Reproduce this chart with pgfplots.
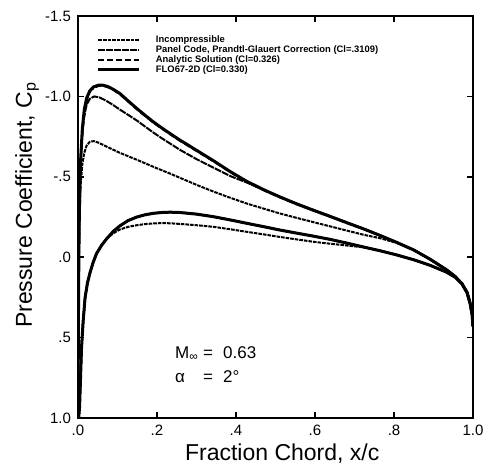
\documentclass[border=0pt]{standalone}
\usepackage{pgfplots}
\pgfplotsset{compat=1.18}
\usepackage{fontspec}
\setmainfont{Liberation Sans}

\pgfplotstableread{
x y
1.0 0.43
0.998 0.36
0.993 0.29
0.985 0.22
0.972 0.165
0.955 0.12
0.933 0.078
0.891 0.012
0.85 -0.045
0.807 -0.089
0.765 -0.118
0.722 -0.140
0.68 -0.166
0.638 -0.192
0.596 -0.218
0.553 -0.245
0.511 -0.272
0.47 -0.302
0.427 -0.334
0.385 -0.370
0.343 -0.408
0.30 -0.450
0.258 -0.494
0.233 -0.520
0.212 -0.541
0.191 -0.562
0.170 -0.584
0.149 -0.606
0.127 -0.628
0.106 -0.649
0.085 -0.673
0.064 -0.698
0.052 -0.712
0.040 -0.722
0.030 -0.718
0.022 -0.695
0.016 -0.65
0.011 -0.58
0.007 -0.46
0.0045 -0.30
0.003 -0.12
0.002 0.08
0.0012 0.35
0.0005 0.7
0.0 1.0
}\incup

\pgfplotstableread{
x y
0.0 1.0
0.002 0.99
0.004 0.93
0.006 0.78
0.009 0.56
0.013 0.40
0.018 0.25
0.024 0.16
0.030 0.10
0.038 0.035
0.047 -0.023
0.06 -0.075
0.073 -0.116
0.09 -0.150
0.106 -0.172
0.127 -0.189
0.149 -0.199
0.170 -0.206
0.191 -0.210
0.212 -0.212
0.233 -0.211
0.258 -0.207
0.30 -0.199
0.343 -0.189
0.385 -0.174
0.427 -0.158
0.47 -0.142
0.511 -0.126
0.553 -0.111
0.596 -0.096
0.638 -0.084
0.68 -0.073
0.722 -0.062
0.765 -0.040
0.807 -0.014
0.85 0.016
0.891 0.050
0.933 0.093
0.955 0.125
0.972 0.165
0.985 0.22
0.993 0.29
0.998 0.36
1.0 0.43
}\inclo

\pgfplotstableread{
x y
1.0 0.43
0.998 0.36
0.993 0.29
0.985 0.219
0.972 0.164
0.955 0.119
0.933 0.077
0.891 0.011
0.85 -0.046
0.807 -0.093
0.765 -0.136
0.722 -0.178
0.68 -0.217
0.638 -0.256
0.596 -0.294
0.553 -0.334
0.511 -0.376
0.47 -0.418
0.427 -0.465
0.385 -0.505
0.343 -0.557
0.30 -0.610
0.258 -0.668
0.233 -0.707
0.212 -0.740
0.191 -0.775
0.170 -0.812
0.149 -0.850
0.127 -0.885
0.106 -0.918
0.088 -0.948
0.07 -0.975
0.055 -0.993
0.041 -1.0
0.030 -0.985
0.022 -0.95
0.016 -0.88
0.011 -0.78
0.007 -0.62
0.0045 -0.42
0.003 -0.2
0.002 0.05
0.0012 0.35
0.0005 0.7
0.0 1.0
}\pgup

\pgfplotstableread{
x y
0.0 1.0
0.002 0.99
0.004 0.93
0.006 0.78
0.009 0.56
0.013 0.40
0.018 0.25
0.024 0.16
0.030 0.10
0.038 0.035
0.047 -0.023
0.06 -0.075
0.073 -0.116
0.09 -0.162
0.106 -0.195
0.127 -0.228
0.149 -0.250
0.170 -0.264
0.191 -0.273
0.212 -0.278
0.233 -0.280
0.258 -0.278
0.30 -0.268
0.343 -0.252
0.385 -0.232
0.427 -0.211
0.47 -0.190
0.511 -0.169
0.553 -0.150
0.596 -0.131
0.638 -0.111
0.68 -0.088
0.722 -0.064
0.765 -0.040
0.807 -0.014
0.85 0.016
0.891 0.050
0.933 0.093
0.955 0.125
0.972 0.165
0.985 0.22
0.993 0.29
0.998 0.36
1.0 0.43
}\complo

\pgfplotstableread{
x y
1.0 0.43
0.998 0.36
0.993 0.29
0.985 0.222
0.972 0.167
0.955 0.122
0.933 0.080
0.891 0.014
0.85 -0.043
0.807 -0.090
0.765 -0.133
0.722 -0.175
0.68 -0.213
0.638 -0.252
0.596 -0.290
0.553 -0.330
0.511 -0.372
0.47 -0.417
0.427 -0.468
0.385 -0.530
0.343 -0.596
0.30 -0.661
0.258 -0.724
0.233 -0.765
0.212 -0.800
0.191 -0.837
0.170 -0.878
0.149 -0.920
0.127 -0.968
0.106 -1.013
0.09 -1.040
0.075 -1.058
0.062 -1.067
0.052 -1.065
0.042 -1.055
0.033 -1.04
0.026 -1.01
0.020 -0.95
0.014 -0.85
0.009 -0.70
0.005 -0.52
0.003 -0.30
0.002 -0.05
0.0012 0.2
0.0005 0.6
0.0 1.0
}\anup

\pgfplotstableread{
x y
1.0 0.43
0.998 0.36
0.993 0.29
0.985 0.22
0.972 0.165
0.955 0.12
0.933 0.078
0.891 0.012
0.85 -0.045
0.807 -0.092
0.765 -0.135
0.722 -0.177
0.68 -0.215
0.638 -0.254
0.596 -0.292
0.553 -0.332
0.511 -0.375
0.47 -0.420
0.427 -0.472
0.385 -0.533
0.343 -0.600
0.30 -0.665
0.275 -0.703
0.258 -0.728
0.233 -0.769
0.212 -0.804
0.191 -0.841
0.170 -0.882
0.149 -0.925
0.127 -0.972
0.106 -1.018
0.090 -1.043
0.075 -1.062
0.062 -1.07
0.052 -1.07
0.040 -1.06
0.030 -1.035
0.022 -0.99
0.016 -0.92
0.011 -0.80
0.007 -0.62
0.0045 -0.42
0.003 -0.2
0.002 0.05
0.0012 0.35
0.0005 0.7
0.0 1.0
}\floup

\begin{document}
\begin{tikzpicture}
\path[use as bounding box] (-39pt,-26.5pt) rectangle (204pt,209pt);
\begin{axis}[
  at={(0,0)}, anchor=south west,
  scale only axis, width=197.5pt, height=201pt,
  xmin=0, xmax=1, ymin=-1.5, ymax=1.0,
  y dir=reverse,
  xtick={0,0.2,0.4,0.6,0.8,1.0},
  xticklabels={.0,.2,.4,.6,.8,1.0},
  ytick={-1.5,-1,-0.5,0,0.5,1},
  yticklabels={-1.5,-1.0,-.5,.0,.5,1.0},
  /pgf/number format/assume math mode=true,
  tick label style={font=\fontsize{7.5}{8}\selectfont},
  major tick length=3pt,
  tick style={black, line width=0.8pt},
  axis line style={line width=1.1pt},
  xlabel={Fraction Chord, x/c},
  ylabel={Pressure Coefficient, C\textsubscript{p}},
  label style={font=\fontsize{11.5}{12}\selectfont},
  xlabel style={at={(axis description cs:0.517,-0.0896)}, anchor=center},
  ylabel style={at={(axis description cs:-0.129,0.53)}, anchor=center},
  legend style={draw=none, fill=none, at={(axis description cs:0.048,0.953)}, anchor=north west,
    inner sep=0pt, outer sep=0pt, row sep=0pt,
    font=\fontsize{4.7}{5}\selectfont\bfseries,
    nodes={inner xsep=0pt, inner ysep=0.3pt, text height=3.4pt, text depth=1pt},
    /tikz/every odd column/.append style={column sep=7.5pt}},
  legend cell align=left,
  legend image code/.code={\draw[#1] (0pt,0pt) -- (20.5pt,0pt);},
]
\addplot[black, line width=1pt, dash pattern=on 1.8pt off 0.5pt] table {\incup};
\addlegendentry{Incompressible}
\addplot[black, line width=1pt, dash pattern=on 1.8pt off 0.5pt, forget plot] table {\inclo};
\addplot[black, line width=1pt, dash pattern=on 3.5pt off 0.5pt] table {\pgup};
\addlegendentry{Panel Code, Prandtl-Glauert Correction (Cl=.3109)}
\addplot[black, line width=1pt, dash pattern=on 3.5pt off 0.5pt, forget plot] table {\complo};
\addplot[black, line width=1pt, dash pattern=on 3pt off 1.5pt] table {\anup};
\addlegendentry{Analytic Solution (Cl=0.326)}
\addplot[black, line width=1pt, dash pattern=on 3pt off 1.5pt, forget plot] table {\complo};
\addplot[black, line width=1.5pt] table {\floup};
\addlegendentry{FLO67-2D (Cl=0.330)}
\addplot[black, line width=1.5pt, forget plot] table {\complo};
\node[anchor=base west, font=\fontsize{8.5}{9}\selectfont] at (axis cs:0.228,0.628)
  {\makebox[14pt][l]{M\textsubscript{∞}}\makebox[10pt][l]{=}0.63};
\node[anchor=base west, font=\fontsize{8.5}{9}\selectfont] at (axis cs:0.228,0.777)
  {\makebox[14pt][l]{α}\makebox[10pt][l]{=}2°};
\end{axis}
\end{tikzpicture}
\end{document}
